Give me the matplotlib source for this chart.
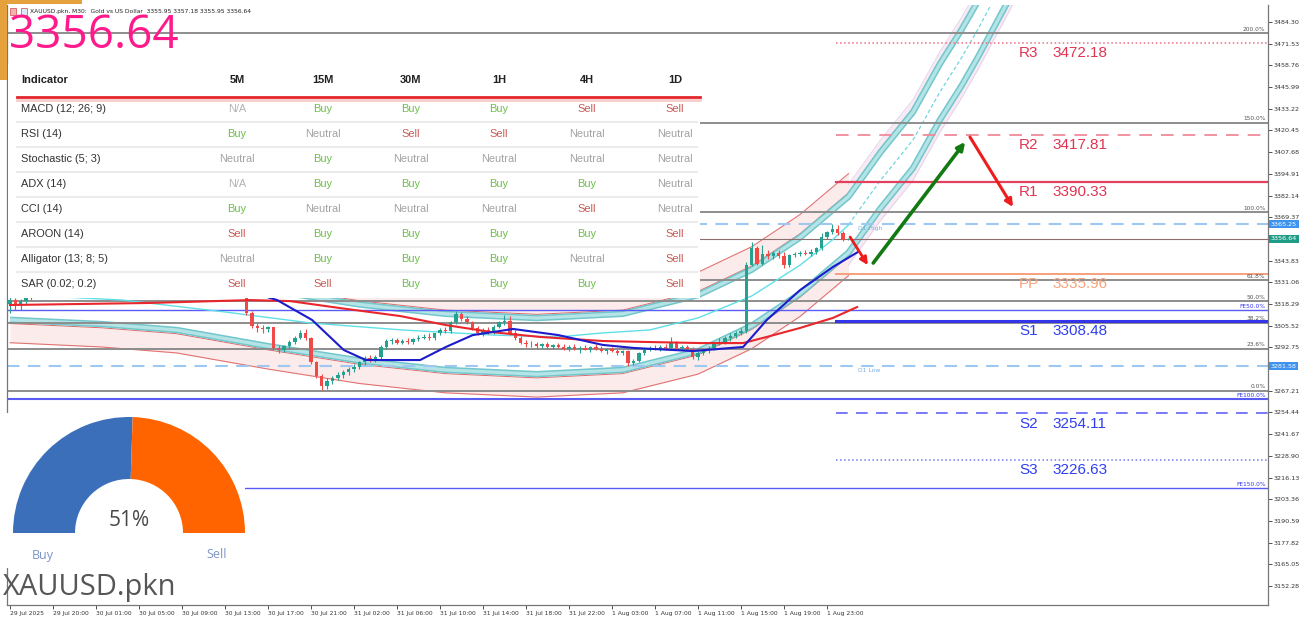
import matplotlib
matplotlib.use("Agg")
import matplotlib.pyplot as plt
from matplotlib.patches import Wedge, Rectangle
from matplotlib import font_manager
import numpy as np

# ---------------------------------------------------------------- data
opens = [3318.0, 3320.5, 3317.5, 3320.0, 3322.5, 3325.5, 3328.0, 3330.0, 3329.0, 3332.0,
         3334.0, 3333.0, 3336.0, 3338.0, 3337.0, 3340.0, 3339.0, 3342.0, 3341.0, 3338.0,
         3336.0, 3337.0, 3334.0, 3335.0, 3332.0, 3333.0, 3330.0, 3331.0, 3333.0, 3332.0,
         3335.0, 3334.0, 3336.0, 3335.0, 3333.0, 3334.0, 3331.0, 3332.0, 3330.0, 3331.0,
         3329.0, 3330.0, 3328.0, 3329.0, 3326.0, 3313.0, 3305.5, 3304.0, 3303.5, 3304.5,
         3292.5, 3291.0, 3293.5, 3296.0, 3298.5, 3301.5, 3298.0, 3284.0, 3276.0, 3270.0,
         3273.0, 3275.0, 3276.5, 3278.0, 3280.0, 3281.5, 3284.0, 3286.5, 3285.5, 3287.0,
         3293.0, 3296.5, 3297.0, 3295.5, 3296.5, 3295.8, 3297.8, 3298.5, 3299.0, 3298.0,
         3301.0, 3303.0, 3302.5, 3307.5, 3312.5, 3309.5, 3307.5, 3304.0, 3301.0, 3303.0,
         3301.5, 3305.0, 3307.5, 3308.5, 3301.5, 3298.0, 3295.5, 3294.5, 3295.0, 3293.5,
         3294.5, 3293.0, 3294.0, 3293.2, 3292.0, 3293.0, 3291.8, 3292.5, 3291.5, 3293.0,
         3292.0, 3290.8, 3291.8, 3290.5, 3289.5, 3290.5, 3283.5, 3285.0, 3289.5, 3291.5,
         3292.5, 3292.0, 3293.0, 3292.5, 3295.5, 3292.4, 3293.0, 3292.0, 3287.0, 3289.5,
         3291.0, 3292.5, 3295.0, 3296.0, 3298.0, 3299.5, 3301.5, 3302.5, 3341.5, 3351.5,
         3342.0, 3348.0, 3346.5, 3348.5, 3346.5, 3341.0, 3347.0, 3347.8, 3348.3, 3347.8,
         3349.0, 3351.0, 3357.5, 3360.5, 3362.5, 3360.0, 3355.95]
highs = [3322.5, 3322.0, 3321.5, 3324.0, 3327.0, 3329.5, 3331.5, 3331.5, 3333.5, 3335.5,
         3335.0, 3337.5, 3339.5, 3339.0, 3341.5, 3341.0, 3343.5, 3343.0, 3342.0, 3339.0,
         3338.5, 3338.0, 3336.5, 3336.0, 3334.5, 3334.0, 3332.5, 3334.5, 3334.0, 3336.5,
         3336.0, 3337.5, 3337.0, 3336.0, 3335.5, 3335.0, 3333.5, 3333.0, 3332.5, 3332.0,
         3331.5, 3331.0, 3330.5, 3330.0, 3327.0, 3314.0, 3307.0, 3306.0, 3305.5, 3305.0,
         3294.0, 3294.0, 3297.0, 3299.5, 3303.0, 3303.5, 3299.0, 3285.0, 3277.0, 3274.5,
         3276.0, 3278.0, 3279.5, 3281.0, 3283.0, 3285.0, 3287.5, 3288.0, 3288.0, 3294.0,
         3297.5, 3298.5, 3298.0, 3297.5, 3298.0, 3298.5, 3300.0, 3300.5, 3301.0, 3301.5,
         3304.0, 3304.5, 3308.0, 3314.0, 3313.5, 3311.0, 3308.5, 3305.5, 3304.0, 3305.0,
         3306.0, 3308.5, 3312.0, 3311.0, 3303.0, 3299.5, 3297.0, 3296.5, 3296.0, 3295.5,
         3296.0, 3295.0, 3295.5, 3294.5, 3294.0, 3294.5, 3293.5, 3294.0, 3293.5, 3294.5,
         3293.5, 3292.5, 3293.0, 3292.0, 3291.5, 3291.0, 3286.0, 3290.0, 3292.5, 3293.5,
         3294.0, 3294.0, 3294.5, 3299.0, 3296.5, 3294.0, 3294.0, 3293.0, 3290.5, 3292.0,
         3293.5, 3296.0, 3298.5, 3299.5, 3301.0, 3302.5, 3304.0, 3343.0, 3354.5, 3352.5,
         3353.0, 3350.0, 3349.5, 3350.0, 3349.0, 3348.0, 3349.0, 3349.5, 3350.0, 3350.5,
         3352.0, 3360.0, 3361.5, 3365.25, 3365.0, 3361.0, 3357.18]
lows = [3313.0, 3314.5, 3315.0, 3318.5, 3320.5, 3324.0, 3326.5, 3327.5, 3328.0, 3331.0,
        3331.5, 3332.0, 3335.0, 3335.5, 3336.0, 3337.5, 3338.0, 3339.5, 3336.5, 3334.5,
        3335.0, 3332.5, 3333.0, 3330.5, 3331.0, 3328.5, 3329.0, 3330.0, 3330.5, 3331.0,
        3332.5, 3333.0, 3333.5, 3331.5, 3332.0, 3329.5, 3330.0, 3328.5, 3329.0, 3327.5,
        3328.0, 3326.5, 3327.0, 3324.5, 3312.0, 3304.0, 3302.0, 3301.0, 3302.0, 3291.0,
        3289.5, 3290.0, 3292.0, 3295.0, 3297.5, 3297.0, 3283.0, 3275.0, 3267.7, 3268.0,
        3271.0, 3273.5, 3275.0, 3276.5, 3278.5, 3280.0, 3282.5, 3284.0, 3284.0, 3286.0,
        3292.0, 3295.0, 3295.0, 3294.5, 3295.0, 3295.0, 3296.5, 3297.5, 3297.0, 3297.0,
        3300.0, 3301.5, 3301.5, 3306.5, 3308.5, 3306.5, 3303.0, 3300.0, 3299.5, 3300.5,
        3300.5, 3304.0, 3306.0, 3300.0, 3297.0, 3294.5, 3293.0, 3293.0, 3292.5, 3292.5,
        3292.0, 3292.0, 3292.5, 3291.0, 3290.5, 3291.0, 3289.5, 3291.0, 3290.0, 3291.5,
        3290.0, 3289.0, 3290.0, 3288.5, 3288.0, 3282.0, 3282.5, 3284.0, 3288.5, 3290.5,
        3291.0, 3290.5, 3291.5, 3292.0, 3292.0, 3291.0, 3291.5, 3286.0, 3285.5, 3288.0,
        3289.5, 3291.5, 3294.0, 3295.0, 3296.5, 3298.5, 3300.0, 3301.5, 3340.5, 3341.0,
        3341.0, 3345.0, 3344.5, 3345.5, 3339.5, 3340.0, 3346.0, 3346.5, 3347.0, 3346.5,
        3347.5, 3350.0, 3356.5, 3359.5, 3359.0, 3355.5, 3355.95]
closes = [3320.5, 3317.5, 3320.0, 3322.5, 3325.5, 3328.0, 3330.0, 3329.0, 3332.0, 3334.0,
          3333.0, 3336.0, 3338.0, 3337.0, 3340.0, 3339.0, 3342.0, 3341.0, 3338.0, 3336.0,
          3337.0, 3334.0, 3335.0, 3332.0, 3333.0, 3330.0, 3331.0, 3333.0, 3332.0, 3335.0,
          3334.0, 3336.0, 3335.0, 3333.0, 3334.0, 3331.0, 3332.0, 3330.0, 3331.0, 3329.0,
          3330.0, 3328.0, 3329.0, 3326.0, 3313.0, 3305.5, 3304.0, 3303.5, 3304.5, 3292.5,
          3291.0, 3293.5, 3296.0, 3298.5, 3301.5, 3298.0, 3284.0, 3276.0, 3270.0, 3273.0,
          3275.0, 3276.5, 3278.0, 3280.0, 3281.5, 3284.0, 3286.5, 3285.5, 3287.0, 3293.0,
          3296.5, 3297.0, 3295.5, 3296.5, 3295.8, 3297.8, 3298.5, 3299.0, 3298.0, 3301.0,
          3303.0, 3302.5, 3307.5, 3312.5, 3309.5, 3307.5, 3304.0, 3301.0, 3303.0, 3301.5,
          3305.0, 3307.5, 3308.5, 3301.5, 3298.0, 3295.5, 3294.5, 3295.0, 3293.5, 3294.5,
          3293.0, 3294.0, 3293.2, 3292.0, 3293.0, 3291.8, 3292.5, 3291.5, 3293.0, 3292.0,
          3290.8, 3291.8, 3290.5, 3289.5, 3290.5, 3283.5, 3285.0, 3289.5, 3291.5, 3292.5,
          3292.0, 3293.0, 3292.5, 3295.5, 3292.4, 3293.0, 3292.0, 3287.0, 3289.5, 3291.0,
          3292.5, 3295.0, 3296.0, 3298.0, 3299.5, 3301.5, 3302.5, 3341.5, 3351.5, 3342.0,
          3348.0, 3346.5, 3348.5, 3346.5, 3341.0, 3347.0, 3347.8, 3348.3, 3347.8, 3349.0,
          3351.0, 3357.5, 3360.5, 3362.5, 3360.0, 3356.0, 3356.64]

# moving averages (bar index, price)
blue_ma_bars = [0, 10, 20, 30, 40, 49.7, 56.2, 62.1, 66.2, 76.3, 81.1, 86.1, 93.6, 102, 110.3,
                116.1, 127.1, 136.4, 140.8, 147, 153.1, 157.8]
blue_ma_vals = [3326.0, 3330.0, 3336.0, 3334.0, 3330.0, 3320.6, 3308.9, 3291.2, 3285.3, 3285.3,
                3293.0, 3300.0, 3303.6, 3300.0, 3294.2, 3292.4, 3290.6, 3293.0, 3308.9, 3326.5,
                3340.1, 3349.0]
red_ma_bars = [0, 26, 44.7, 52.1, 61.4, 72.6, 81.1, 89.5, 98.6, 110.3, 119.1, 128.4, 136.4,
               140.8, 147, 153.1, 157.6]
red_ma_vals = [3317.7, 3318.9, 3320.6, 3320.0, 3315.9, 3311.2, 3305.9, 3301.8, 3298.9, 3296.5,
               3295.9, 3295.3, 3295.3, 3298.9, 3304.2, 3310.1, 3316.5]
cyan_ma_bars = [0, 21, 40, 56, 73, 90, 102, 110, 119, 128, 138, 147, 153, 156]
cyan_ma_vals = [3324.0, 3320.6, 3313.6, 3307.1, 3303.0, 3300.0, 3298.9, 3301.2, 3303.0, 3310.1,
                3323.0, 3341.2, 3356.0, 3364.8]

# regression channel centre (bar index, price)
chan_bars = [0, 17, 31, 48, 65, 81, 98, 114, 128, 138, 147, 156, 162, 168, 173, 177, 180,
             183, 186, 189]
chan_mid = [3325.5, 3323.0, 3319.5, 3310.0, 3301.5, 3296.0, 3293.5, 3296.0, 3307.0, 3322.0,
            3341.0, 3365.0, 3391.3, 3414.8, 3443.1, 3463.1, 3479.6, 3497.3, 3514.9, 3533.0]
chan_band = 16.5
chan_edge = 18.7
chan_outer = 30.0

# levels
fib_names = ["0.0%", "23.6%", "38.2%", "50.0%", "61.8%", "100.0%", "150.0%", "200.0%"]
fib_prices = [3267.2, 3292.0, 3307.4, 3319.8, 3332.2, 3372.4, 3425.0, 3477.6]
fe_names = ["FE50.0%", "FE100.0%", "FE150.0%"]
fe_prices = [3314.8, 3262.4, 3210.0]
pivot_names = ["R3", "R2", "R1", "PP", "S1", "S2", "S3"]
pivot_values = [3472.18, 3417.81, 3390.33, 3335.96, 3308.48, 3254.11, 3226.63]
d1_high = 3365.25
d1_low = 3281.58
last_price = 3356.64

price_ticks = [3484.30, 3471.53, 3458.76, 3445.99, 3433.22, 3420.45, 3407.68, 3394.91,
               3382.14, 3369.37, 3343.83, 3331.06, 3318.29, 3305.52, 3292.75, 3267.21,
               3254.44, 3241.67, 3228.90, 3216.13, 3203.36, 3190.59, 3177.82, 3165.05, 3152.28]
x_tick_bars = [0, 8, 16, 24, 32, 40, 48, 56, 64, 72, 80, 88, 96, 104, 112, 120, 128, 136, 144, 152]
x_tick_labels = ["29 Jul 2025", "29 Jul 20:00", "30 Jul 01:00", "30 Jul 05:00", "30 Jul 09:00",
                 "30 Jul 13:00", "30 Jul 17:00", "30 Jul 21:00", "31 Jul 02:00", "31 Jul 06:00",
                 "31 Jul 10:00", "31 Jul 14:00", "31 Jul 18:00", "31 Jul 22:00", "1 Aug 03:00",
                 "1 Aug 07:00", "1 Aug 11:00", "1 Aug 15:00", "1 Aug 19:00", "1 Aug 23:00"]

# forecast arrows ((bar, price) start -> end)
arrow_red1 = [(156.3, 3357.7), (159.6, 3341.2)]
arrow_green = [(160.6, 3342.4), (177.7, 3413.7)]
arrow_red2 = [(178.6, 3416.6), (186.6, 3375.4)]

# indicator table
tf_cols = ["5M", "15M", "30M", "1H", "4H", "1D"]
ind_rows = ["MACD (12; 26; 9)", "RSI (14)", "Stochastic (5; 3)", "ADX (14)", "CCI (14)",
            "AROON (14)", "Alligator (13; 8; 5)", "SAR (0.02; 0.2)"]
ind_signals = [
    ["N/A", "Buy", "Buy", "Buy", "Sell", "Sell"],
    ["Buy", "Neutral", "Sell", "Sell", "Neutral", "Neutral"],
    ["Neutral", "Buy", "Neutral", "Neutral", "Neutral", "Neutral"],
    ["N/A", "Buy", "Buy", "Buy", "Buy", "Neutral"],
    ["Buy", "Neutral", "Neutral", "Neutral", "Sell", "Neutral"],
    ["Sell", "Buy", "Buy", "Buy", "Buy", "Sell"],
    ["Neutral", "Buy", "Buy", "Buy", "Neutral", "Sell"],
    ["Sell", "Sell", "Buy", "Buy", "Buy", "Sell"],
]
gauge_pct = 51
header_text = "XAUUSD.pkn, M30:  Gold vs US Dollar  3355.95 3357.18 3355.95 3356.64"
symbol = "XAUUSD.pkn"

# ---------------------------------------------------------------- layout
W, H = 1306, 618
fig = plt.figure(figsize=(W / 100, H / 100), dpi=100)
fig.patch.set_facecolor("white")

PX_L, PX_R, PX_T, PX_B = 7, 1268, 5, 605
ax = fig.add_axes([PX_L / W, 1 - PX_B / H, (PX_R - PX_L) / W, (PX_B - PX_T) / H])
ax.set_zorder(1)
ax.set_xlim(-0.558, 234.05)
ax.set_ylim(3141.1, 3494.31)

avail = {f.name for f in font_manager.fontManager.ttflist}
TFONT = "Liberation Sans Narrow" if "Liberation Sans Narrow" in avail else "Liberation Sans"
TSIZE = 8.8 if TFONT == "Liberation Sans Narrow" else 7.9

# channel
cb = np.array(chan_bars, dtype=float)
cm = np.array(chan_mid)
cur = chan_bars.index(156)
hb, hm = cb[:cur + 1], cm[:cur + 1]
fb, fm = cb[cur:], cm[cur:]
for s in (1, -1):
    ax.fill_between(hb, hm + s * chan_edge, hm + s * chan_outer, color="#fbe3e3", alpha=0.7,
                    lw=0, zorder=1)
    ax.plot(hb, hm + s * chan_outer, color="#e27272", lw=0.8, zorder=2)
    ax.fill_between(fb, fm + s * chan_edge, fm + s * (chan_edge + 5), color="#f6e6f0", alpha=0.8,
                    lw=0, zorder=1)
    ax.plot(fb, fm + s * (chan_edge + 5), color="#e6d2ea", lw=0.7, zorder=2)
    ax.plot(cb, cm + s * chan_edge, color="#dd6a6a", lw=0.7, zorder=2)
    ax.plot(cb, cm + s * chan_band, color="#72c6cc", lw=4.6, zorder=2, solid_capstyle="butt")
    ax.plot(cb, cm + s * chan_band, color="#b4e4e6", lw=2.4, zorder=2, solid_capstyle="butt")
ax.plot(fb, fm, color="#6fd6de", lw=0.9, ls=(0, (3, 2)), zorder=2)

# horizontal levels
for p in fib_prices:
    ax.axhline(p, color="#8d8d8d", lw=1.4, zorder=2)
for nm, p in zip(fib_names, fib_prices):
    ax.text(233.6, p + 0.8, nm, ha="right", va="bottom", fontsize=4.2, color="#555", zorder=6)
for i, (nm, p) in enumerate(zip(fe_names, fe_prices)):
    ax.axhline(p, xmin=0, color="#5a5af5", lw=1.5 if i == 1 else 1.0, zorder=2)
    ax.text(233.6, p + 0.8, nm, ha="right", va="bottom", fontsize=4.2, color="#3535ee", zorder=6)
ax.axhline(d1_high, color="#9cc8f2", lw=1.5, ls=(0, (6, 4)), zorder=2)
ax.axhline(d1_low, color="#9cc8f2", lw=1.5, ls=(0, (6, 4)), zorder=2)
ax.text(157.8, d1_high - 1.2, "D1 High", fontsize=4.3, color="#74aee6", va="top", zorder=6)
ax.text(157.8, d1_low - 1.2, "D1 Low", fontsize=4.3, color="#74aee6", va="top", zorder=6)
ax.axhline(last_price, color="#8c6e6e", lw=0.8, zorder=2)

pv_style = {
    "R3": dict(color="#ec6f86", ls=":", lw=1.1),
    "R2": dict(color="#f08a9a", ls=(0, (7, 5)), lw=1.3),
    "R1": dict(color="#e2405c", ls="-", lw=1.6),
    "PP": dict(color="#f6a07c", ls="-", lw=1.4),
    "S1": dict(color="#3434e8", ls="-", lw=2.2),
    "S2": dict(color="#6262f2", ls=(0, (7, 5)), lw=1.2),
    "S3": dict(color="#7676f0", ls=":", lw=1.1),
}
pv_txt = {"R3": "#e03552", "R2": "#e03552", "R1": "#e03552", "PP": "#f7a27c",
          "S1": "#2f3ff0", "S2": "#2f3ff0", "S3": "#2f3ff0"}
pivot_start = 153.7
for nm, v in zip(pivot_names, pivot_values):
    st = pv_style[nm]
    ax.plot([pivot_start, 234.05], [v, v], color=st["color"], ls=st["ls"], lw=st["lw"], zorder=2)
    for xb, t in ((187.7, nm), (194.0, f"{v:.2f}")):
        ax.annotate(t, xy=(xb, v), xytext=(0, -2.5), textcoords="offset points", ha="left",
                    va="top", fontsize=11, color=pv_txt[nm], family="Liberation Sans", zorder=6)

# candles
idx = np.arange(len(closes))
o, h, l, c = map(np.array, (opens, highs, lows, closes))
UP, DN = "#26a08f", "#ef4a47"
col = np.where(c >= o, UP, DN)
ax.vlines(idx, l, h, colors=col, lw=0.8, zorder=4)
ax.bar(idx, np.maximum(np.abs(c - o), 0.35), bottom=np.minimum(o, c), width=0.62, color=col,
       lw=0, zorder=4)

# moving averages
ax.plot(cyan_ma_bars, cyan_ma_vals, color="#5fe0e8", lw=1.0, zorder=3)
ax.plot(red_ma_bars, red_ma_vals, color="#e8262b", lw=1.5, zorder=5)
ax.plot(blue_ma_bars, blue_ma_vals, color="#1c1ccc", lw=1.5, zorder=5)

# arrows
for arr, colr, lw in ((arrow_red1, "#ee1c1c", 2.0), (arrow_green, "#137a13", 2.6),
                      (arrow_red2, "#ee1c1c", 2.2)):
    ax.annotate("", xy=arr[1], xytext=arr[0],
                arrowprops=dict(arrowstyle="-|>", color=colr, lw=lw, mutation_scale=11,
                                shrinkA=0, shrinkB=0), zorder=7)

# axes styling
ax.yaxis.tick_right()
ax.set_yticks(price_ticks, [f"{p:.2f}" for p in price_ticks])
ax.set_xticks(x_tick_bars, x_tick_labels)
for lab in ax.get_xticklabels():
    lab.set_ha("left")
ax.tick_params(axis="y", labelsize=4.6, length=3, width=0.6, pad=1, colors="#333")
ax.tick_params(axis="x", labelsize=4.3, length=3, width=0.6, pad=1.5, colors="#333")
for side in ("left", "right", "bottom"):
    ax.spines[side].set_color("#777")
    ax.spines[side].set_linewidth(0.9)
ax.spines["top"].set_visible(False)

for val, fc in ((d1_high, "#3d93ee"), (last_price, "#1f9c86"), (d1_low, "#3d93ee")):
    ax.annotate(f"{val:.2f}", xy=(1.0, val), xycoords=("axes fraction", "data"),
                xytext=(2, 0), textcoords="offset points", ha="left", va="center",
                fontsize=4.6, color="white",
                bbox=dict(boxstyle="square,pad=0.25", fc=fc, ec="none"), zorder=8,
                annotation_clip=False)

# ---------------------------------------------------------------- overlay (pixel space)
ov = fig.add_axes([0, 0, 1, 1])
ov.set_zorder(3)
ov.set_xlim(0, W)
ov.set_ylim(H, 0)
ov.axis("off")
ov.patch.set_visible(False)

ov.add_patch(Rectangle((0, 0), 7, 80, fc="#e5a13b", ec="none"))
ov.add_patch(Rectangle((0, 0), 82, 4, fc="#e5a13b", ec="none"))
ov.add_patch(Rectangle((10, 8), 6, 7, fc="#f3b2b2", ec="#d04848", lw=0.5))
ov.add_patch(Rectangle((21, 8), 6, 7, fc="#dde8f8", ec="#d04848", lw=0.5))
ov.text(30, 11.5, header_text, fontsize=4.3, color="#222", va="center", ha="left")
ov.text(9, 36, f"{last_price:.2f}", fontsize=33, color="#ff1a8c", va="center", ha="left",
        family="Open Sans")

# table
ov.add_patch(Rectangle((8, 64), 692, 234, fc="white", ec="none"))
col_x = [237, 323, 411, 499, 587, 675]
ov.text(21, 80, "Indicator", fontsize=TSIZE, fontweight="bold", color="#222", va="center",
        family=TFONT)
for cx, t in zip(col_x, tf_cols):
    ov.text(cx, 80, t, fontsize=TSIZE, fontweight="bold", color="#222", va="center",
            ha="center", family=TFONT)
ov.plot([17, 700], [99.5, 99.5], color="#f8cccc", lw=2.0)
ov.plot([17, 700], [97, 97], color="#e3262b", lw=2.0)
sig_col = {"Buy": "#6cbf4a", "Sell": "#c65a55", "Neutral": "#a3a3a3", "N/A": "#b3b3b3"}
for r, (name, sigs) in enumerate(zip(ind_rows, ind_signals)):
    yy = 109 + 25 * r
    ov.text(21, yy, name, fontsize=TSIZE, color="#333", va="center", family=TFONT)
    for cx, s in zip(col_x, sigs):
        ov.text(cx, yy, s, fontsize=TSIZE, color=sig_col[s], va="center", ha="center",
                family=TFONT)
    if r < len(ind_rows) - 1:
        ov.plot([17, 697], [yy + 12.5, yy + 12.5], color="#ebebeb", lw=1.5)

# gauge
ov.add_patch(Rectangle((0, 413), 245, 155, fc="white", ec="none"))
gc, gr, gw = (129, 533), 116, 62
split = 180 + 180 * gauge_pct / 100
ov.add_patch(Wedge(gc, gr, 180, split, width=gw, fc="#3b6fba", ec="none"))
ov.add_patch(Wedge(gc, gr, split, 360, width=gw, fc="#ff6400", ec="none"))
ov.text(129, 521, f"{gauge_pct}%", fontsize=15, color="#474747", ha="center", va="center",
        family="Open Sans")
ov.text(43, 555, "Buy", fontsize=9, color="#7c95c8", ha="center", va="center", family="Open Sans")
ov.text(217, 555, "Sell", fontsize=9, color="#7c95c8", ha="center", va="center",
        family="Open Sans")
ov.text(3, 587, symbol, fontsize=21, color="#565656", ha="left", va="center", family="Open Sans")

fig.savefig("out.png", dpi=100, facecolor="white")
